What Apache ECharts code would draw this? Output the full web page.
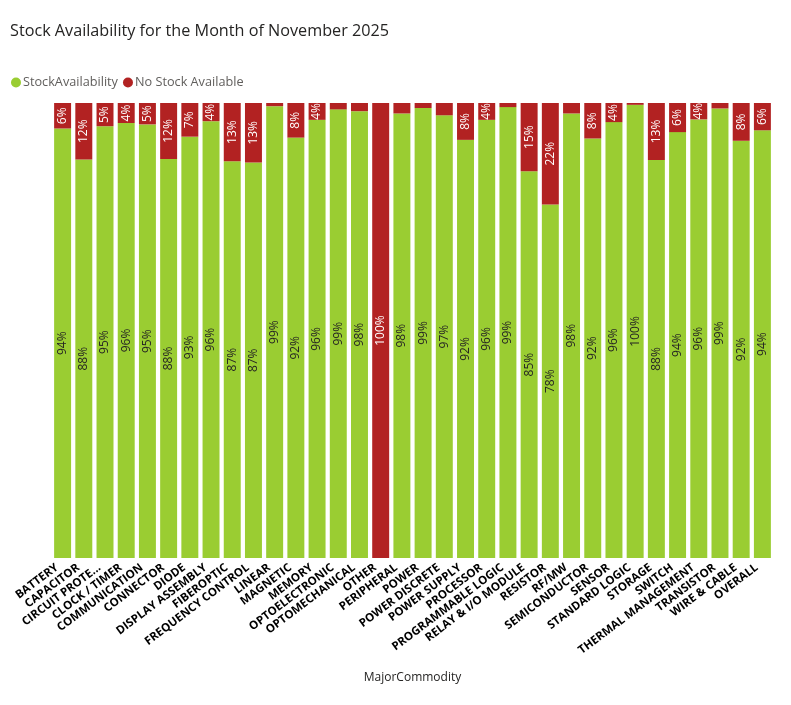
<!DOCTYPE html>
<html>
<head>
<meta charset="utf-8">
<script src="https://cdn.jsdelivr.net/npm/echarts@6/dist/echarts.min.js"></script>
<style>
html,body{margin:0;padding:0;background:#fff;}
#chart{width:791px;height:705px;}
</style>
</head>
<body>
<div id="chart"></div>
<script>
const categories = ["BATTERY","CAPACITOR","CIRCUIT PROTE...","CLOCK / TIMER","COMMUNICATION","CONNECTOR","DIODE","DISPLAY ASSEMBLY","FIBEROPTIC","FREQUENCY CONTROL","LINEAR","MAGNETIC","MEMORY","OPTOELECTRONIC","OPTOMECHANICAL","OTHER","PERIPHERAL","POWER","POWER DISCRETE","POWER SUPPLY","PROCESSOR","PROGRAMMABLE LOGIC","RELAY & I/O MODULE","RESISTOR","RF/MW","SEMICONDUCTOR","SENSOR","STANDARD LOGIC","STORAGE","SWITCH","THERMAL MANAGEMENT","TRANSISTOR","WIRE & CABLE","OVERALL"];
const noStock = [5.6,12.4,5.1,4.4,4.7,12.3,7.4,4.0,12.8,13.1,0.7,7.6,3.7,1.4,1.8,100,2.3,1.1,2.7,8.1,3.7,0.9,15.0,22.3,2.3,7.8,4.2,0.4,12.5,6.4,3.6,1.2,8.3,6.0];
const stockAvail = [94.4,87.6,94.9,95.6,95.3,87.7,92.6,96.0,87.2,86.9,99.3,92.4,96.3,98.6,98.2,0,97.7,98.9,97.3,91.9,96.3,99.1,85.0,77.7,97.7,92.2,95.8,99.6,87.5,93.6,96.4,98.8,91.7,94.0];

const FONT = '"Open Sans","Noto Sans",sans-serif';
const chart = echarts.init(document.getElementById('chart'));
const fmt = p => (p.value >= 3.5 ? Math.round(p.value) + '%' : '');
chart.setOption({
  animation: false,
  title: {
    text: 'Stock Availability for the Month of November 2025',
    left: 5, top: 18,
    textStyle: {fontFamily: FONT, fontSize: 16.2, fontWeight: 'normal', color: '#252423'}
  },
  legend: {
    left: 6, top: 71,
    icon: 'circle', itemWidth: 10, itemHeight: 10, itemGap: 5,
    textStyle: {fontFamily: FONT, fontSize: 12.7, color: '#605E5C', padding: [0,0,0,-3]},
    data: ['StockAvailability', 'No Stock Available']
  },
  grid: {left: 52, right: 18, top: 103, bottom: 147, containLabel: false},
  xAxis: {
    type: 'category',
    data: categories,
    name: 'MajorCommodity',
    nameLocation: 'middle',
    nameGap: 114,
    nameTextStyle: {fontFamily: FONT, fontSize: 12, color: '#252423'},
    axisLine: {show: false},
    axisTick: {show: false},
    axisLabel: {
      interval: 0, rotate: 37, margin: 4, padding: [0, 7, 0, 0],
      fontFamily: FONT, fontSize: 11.5, fontWeight: 'bold', color: '#000'
    }
  },
  yAxis: {
    type: 'value', min: 0, max: 100, show: false,
    splitLine: {show: false}
  },
  series: [
    {
      name: 'StockAvailability', type: 'bar', stack: 'total', data: stockAvail,
      barWidth: '80%',
      itemStyle: {color: '#9ACD32'},
      label: {show: true, position: 'inside', rotate: 90, formatter: fmt,
        fontFamily: FONT, fontSize: 12, color: '#252423'}
    },
    {
      name: 'No Stock Available', type: 'bar', stack: 'total', data: noStock,
      barWidth: '80%',
      itemStyle: {color: '#B22222'},
      label: {show: true, position: 'inside', rotate: 90, formatter: fmt,
        fontFamily: FONT, fontSize: 12, color: '#FFFFFF'}
    }
  ]
});
</script>
</body>
</html>
